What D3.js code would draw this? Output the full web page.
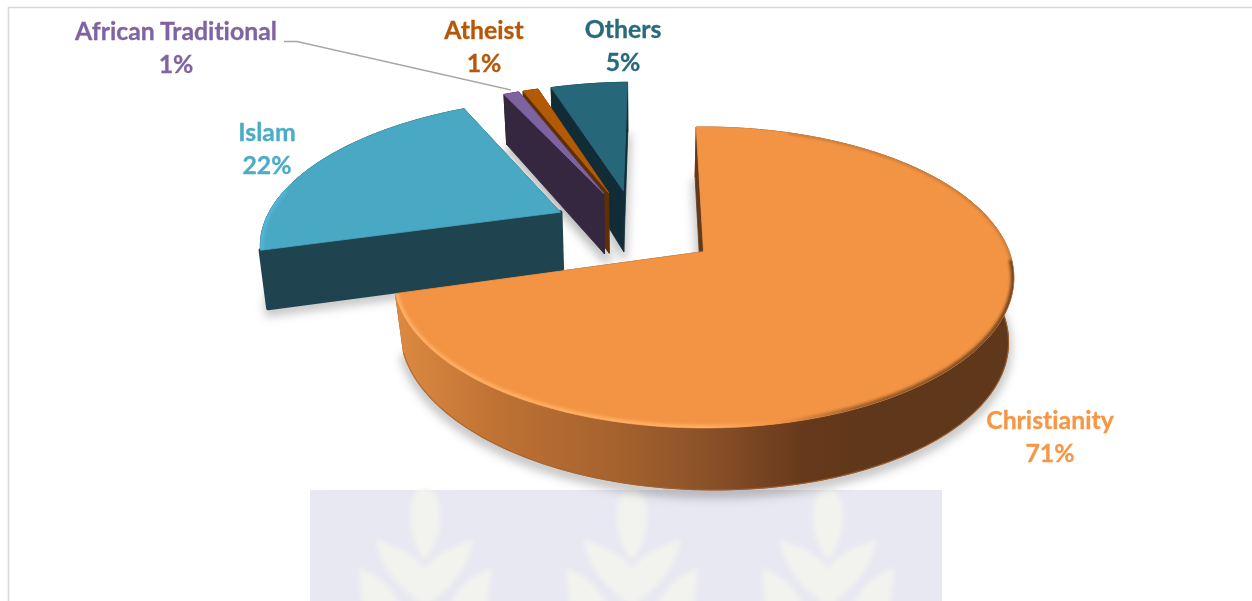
<!DOCTYPE html>
<html>
<head>
<meta charset="utf-8">
<script src="https://cdnjs.cloudflare.com/ajax/libs/d3/7.8.5/d3.min.js"></script>
<style>
  html, body { margin: 0; padding: 0; background: #fff; overflow: hidden; }
  svg { display: block; }
  text { font-family: Lato, "Open Sans", sans-serif; font-weight: 700; font-size: 24.8px; text-anchor: middle; stroke-width: 0.3px; font-variant-ligatures: none; }
</style>
</head>
<body>
<svg id="chart" width="1252" height="601"></svg>
<script>
// Religious affiliation, share of respondents (%)
const categories = ["Christianity", "Islam", "African Traditional", "Atheist", "Others"];
const shares = [71, 22, 1, 1, 5];

const topColors = ["#f39444", "#49a8c3", "#7f63a1", "#b35a07", "#26687a"];
const wallColors = ["#63391a", "#1f444f", "#34273f", "#5e3005", "#112c36"];
const labelColors = ["#f79646", "#4bacc6", "#8064a2", "#b65708", "#276a7c"];
const labelAnchors = [[1050, 429], [267, 141], [176, 40], [484, 39], [623, 38]];
const lineGap = 32.5;
const drawOrder = [4, 3, 2, 1, 0];

// Projection of the tilted pie: plane coordinates (u right, v toward the viewer)
const perspective = 0.172, radiusX = 306, radiusY = 146.5, originX = 700, originY = 253;
const pieCentre = [-0.218, -0.178], explosion = 0.285;
const vanishX = 640, wallShrink = 0.98, frontLean = 12;
const wallDepth = d3.scaleLinear().domain([-1.4, -1, -0.46, -0.29, 0, 1]).range([50, 50, 61, 57, 58, 62]);

function project(u, v) {
  const s = 1 / (1 - perspective * v);
  return [originX + radiusX * u * s, originY + radiusY * v * s];
}
function lower(u, v) {
  const [x, y] = project(u, v);
  return [vanishX + (x - vanishX) * wallShrink + frontLean * Math.max(0, v), y + wallDepth(v)];
}

const pie = d3.pie().sort(null).startAngle(-1.5 * Math.PI / 180).endAngle(358.5 * Math.PI / 180);
const arcs = pie(shares);

const slices = arcs.map((a, i) => {
  const mid = (a.startAngle + a.endAngle) / 2;
  const cu = pieCentre[0] + explosion * Math.sin(mid);
  const cv = pieCentre[1] - explosion * Math.cos(mid);
  const steps = Math.max(4, Math.ceil((a.endAngle - a.startAngle) / 0.02));
  const rim = d3.range(steps + 1).map(k => {
    const t = a.startAngle + (a.endAngle - a.startAngle) * k / steps;
    return [cu + Math.sin(t), cv - Math.cos(t)];
  });
  return { i, cu, cv, rim };
});

const svg = d3.select("#chart");
const defs = svg.append("defs");
const blur = (id, sd) => defs.append("filter").attr("id", id)
  .attr("x", "-20%").attr("y", "-20%").attr("width", "140%").attr("height", "140%")
  .append("feGaussianBlur").attr("stdDeviation", sd);
blur("soft", 5); blur("rimBlur", 1.6); blur("paper", 2.2); blur("textSoft", 0.3);

// Horizontal shading of the curved wall of the largest slice
const wallGrad = defs.append("linearGradient").attr("id", "wallGrad")
  .attr("gradientUnits", "userSpaceOnUse").attr("x1", 397).attr("x2", 1012).attr("y1", 0).attr("y2", 0);
[[0, "#dc8a40"], [0.16, "#bf7234"], [0.36, "#a5622e"], [0.5, "#8b5228"], [0.66, "#67391c"], [0.76, "#5f371a"], [1, "#5f371a"]]
  .forEach(([o, c]) => wallGrad.append("stop").attr("offset", o).attr("stop-color", c));

// Rim highlight: bright on the lit left side, dark on the right
const rimGrad = defs.append("linearGradient").attr("id", "rimGrad")
  .attr("gradientUnits", "userSpaceOnUse").attr("x1", 397).attr("x2", 1012).attr("y1", 0).attr("y2", 0);
[[0, "#ffb066"], [0.5, "#ffb066"], [0.62, "#f39444"], [0.75, "#9a5e2a"], [1, "#70431f"]]
  .forEach(([o, c]) => rimGrad.append("stop").attr("offset", o).attr("stop-color", c));

const path = d3.line();

// Frame
svg.append("path").attr("d", path([[8.5, 601], [8.5, 7.5], [1252, 7.5]]))
  .attr("fill", "none").attr("stroke", "#d9d9d9").attr("stroke-width", 1.6);

// Faint page emblem behind the lower part of the chart
const paper = svg.append("g");
paper.append("rect").attr("x", 310).attr("y", 490).attr("width", 632).attr("height", 111).attr("fill", "#e8e8f2");
const leaves = paper.append("g").attr("filter", "url(#paper)").attr("fill", "#f6f5ee").attr("fill-opacity", 0.75);
[425, 632, 828].forEach(cx => {
  const g = leaves.append("g").attr("transform", `translate(${cx},490)`);
  g.append("path").attr("d", "M0,-2 C14,-2 17,22 14,38 C12,52 6,60 3,68 L-3,68 C-6,60 -12,52 -14,38 C-17,22 -14,-2 0,-2 Z");
  g.append("path").attr("d", "M-48,50 C-30,56 -12,62 0,78 C12,62 30,56 48,50 C46,72 30,96 0,116 C-30,96 -46,72 -48,50 Z");
  g.append("path").attr("d", "M-66,78 C-50,85 -36,92 -24,116 L-62,116 C-64,100 -66,88 -66,78 Z");
  g.append("path").attr("d", "M66,78 C50,85 36,92 24,116 L62,116 C64,100 66,88 66,78 Z");
});

// Ground shadows
const shadows = svg.append("g").attr("filter", "url(#soft)");
slices.forEach(s => {
  const ring = [[s.cu, s.cv], ...s.rim].map(p => {
    const [x, y] = lower(p[0], p[1]);
    return [x, y + 5];
  });
  shadows.append("path").attr("d", path(ring) + "Z")
    .attr("fill", "#000").attr("fill-opacity", 0.16)
    .attr("stroke", "#000").attr("stroke-opacity", 0.16).attr("stroke-width", 8).attr("stroke-linejoin", "round");
});

// Leader line for the smallest label
svg.append("path").attr("d", path([[284, 41.5], [297, 41.5], [511, 90]]))
  .attr("fill", "none").attr("stroke", "#a6a6a6").attr("stroke-width", 1.3);

// Slices, far ones first
const layer = svg.append("g");
drawOrder.forEach(i => {
  const s = slices[i];
  const g = layer.append("g").attr("class", "slice");
  const apex = [s.cu, s.cv];
  const first = s.rim[0], last = s.rim[s.rim.length - 1];
  const face = pts => path(pts) + "Z";
  const radial = (edge, width) => g.append("path")
    .attr("d", face([project(apex[0], apex[1]), project(edge[0], edge[1]), lower(edge[0], edge[1]), lower(apex[0], apex[1])]))
    .attr("fill", wallColors[i]).attr("stroke", wallColors[i])
    .attr("stroke-width", width).attr("stroke-linejoin", "round");

  radial(last, 0.8);

  // curved outer wall
  const upper = s.rim.map(p => project(p[0], p[1]));
  const under = s.rim.map(p => lower(p[0], p[1]));
  const wall = [...upper, ...under.reverse()];
  g.append("path").attr("d", face(wall))
    .attr("fill", i === 0 ? "url(#wallGrad)" : wallColors[i])
    .attr("stroke", i === 0 ? "url(#wallGrad)" : wallColors[i]).attr("stroke-width", 1);
  if (i === 0) {
    g.append("path").attr("d", path(s.rim.map(p => lower(p[0], p[1]))))
      .attr("fill", "none").attr("stroke", "#a8622a").attr("stroke-width", 1.2).attr("stroke-opacity", 0.8);
  }

  radial(first, i === 1 ? 4 : 0.8);

  // top surface
  const topRing = [apex, ...s.rim].map(p => project(p[0], p[1]));
  const clipId = `top-${i}`;
  defs.append("clipPath").attr("id", clipId).append("path").attr("d", face(topRing));
  g.append("path").attr("d", face(topRing)).attr("fill", topColors[i])
    .attr("stroke", topColors[i]).attr("stroke-width", 0.8).attr("stroke-linejoin", "round");

  // bevel along the rim
  const bevel = g.append("g").attr("clip-path", `url(#${clipId})`);
  if (i === 0) {
    const n = s.rim.length;
    bevel.append("path").attr("d", path(s.rim.slice(Math.floor(n * 0.08), Math.floor(n * 0.38)).map(p => project(p[0], p[1]))))
      .attr("fill", "none").attr("stroke", "#8a5526").attr("stroke-width", 3).attr("stroke-opacity", 0.45).attr("filter", "url(#rimBlur)");
    bevel.append("path").attr("d", path(s.rim.slice(Math.floor(n * 0.37)).map(p => project(p[0], p[1]))))
      .attr("fill", "none").attr("stroke", "url(#rimGrad)").attr("stroke-width", 6).attr("filter", "url(#rimBlur)");
  } else if (i === 1) {
    bevel.append("path").attr("d", path(s.rim.slice(0, 24).map(p => project(p[0], p[1]))))
      .attr("fill", "none").attr("stroke", "#4fb8d8").attr("stroke-width", 6).attr("filter", "url(#rimBlur)");
  }
});

// Category and share labels
const labels = svg.append("g").attr("filter", "url(#textSoft)");
categories.forEach((name, i) => {
  const [x, y] = labelAnchors[i];
  labels.append("text").attr("x", x).attr("y", y).attr("fill", labelColors[i]).attr("stroke", labelColors[i]).text(name);
  labels.append("text").attr("x", x).attr("y", y + lineGap).attr("fill", labelColors[i]).attr("stroke", labelColors[i]).text(`${shares[i]}%`);
});
</script>
</body>
</html>
